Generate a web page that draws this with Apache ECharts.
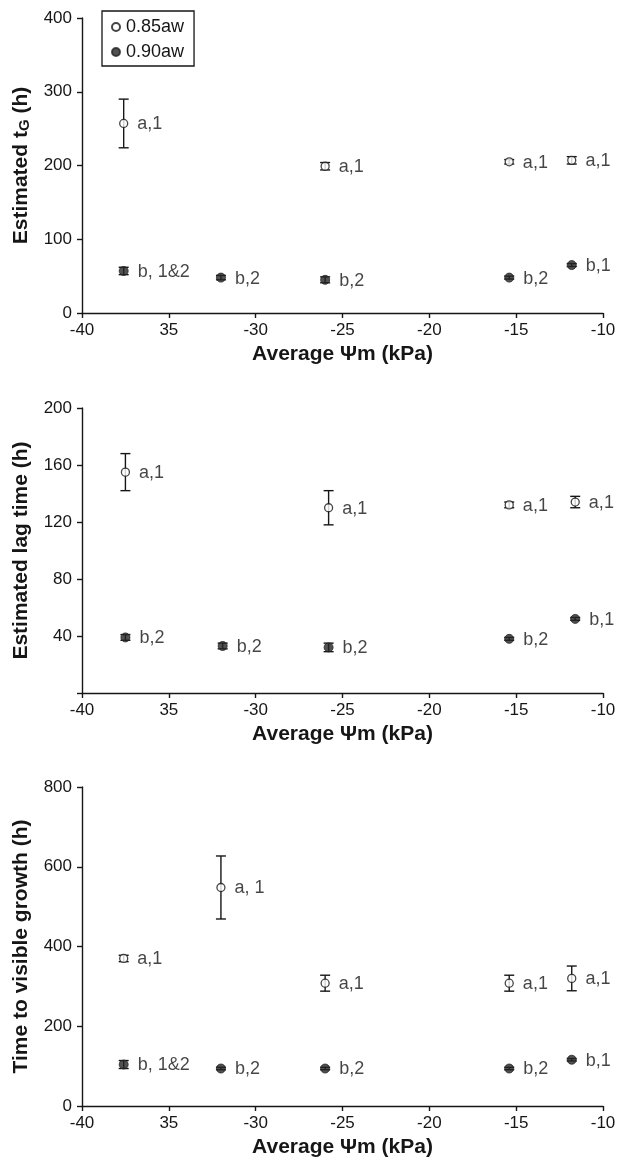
<!DOCTYPE html>
<html>
<head>
<meta charset="utf-8">
<script src="https://cdn.jsdelivr.net/npm/echarts@6/dist/echarts.min.js"></script>
<style>
  html, body { margin: 0; padding: 0; background: #fff; }
  #chart { width: 619px; height: 1167px; }
</style>
</head>
<body>
<div id="chart"></div>
<script>
// x-axis tick labels as printed (second one has no minus sign)
const xTickLabels = ['-40', '35', '-30', '-25', '-20', '-15', '-10'];

// Panel 1: estimated generation time tG (h)
const tgOpenX = [-37.6, -26.0, -15.4, -11.8];
const tgOpen = [257, 199, 205, 207];
const tgOpenErr = [33, 5, 3, 5];
const tgOpenLabels = ['a,1', 'a,1', 'a,1', 'a,1'];
const tgFilledX = [-37.6, -32.0, -26.0, -15.4, -11.8];
const tgFilled = [57, 48, 45, 48, 65];
const tgFilledErr = [5, 3, 4, 2, 2];
const tgFilledLabels = ['b, 1&2', 'b,2', 'b,2', 'b,2', 'b,1'];

// Panel 2: estimated lag time (h)
const lagOpenX = [-37.5, -25.8, -15.4, -11.6];
const lagOpen = [155, 130, 132, 134];
const lagOpenErr = [13, 12, 2, 4];
const lagOpenLabels = ['a,1', 'a,1', 'a,1', 'a,1'];
const lagFilledX = [-37.5, -31.9, -25.8, -15.4, -11.6];
const lagFilled = [39, 33, 32, 38, 52];
const lagFilledErr = [2, 2, 3, 1, 1];
const lagFilledLabels = ['b,2', 'b,2', 'b,2', 'b,2', 'b,1'];

// Panel 3: time to visible growth (h)
const vgOpenX = [-37.6, -32.0, -26.0, -15.4, -11.8];
const vgOpen = [370, 548, 308, 308, 320];
const vgOpenErr = [8, 79, 20, 20, 31];
const vgOpenLabels = ['a,1', 'a, 1', 'a,1', 'a,1', 'a,1'];
const vgFilledX = [-37.6, -32.0, -26.0, -15.4, -11.8];
const vgFilled = [104, 94, 94, 94, 116];
const vgFilledErr = [10, 3, 3, 3, 3];
const vgFilledLabels = ['b, 1&2', 'b,2', 'b,2', 'b,2', 'b,1'];

const FONT = 'Liberation Sans, Arial, sans-serif';
const INK = '#161616';

const chart = echarts.init(document.getElementById('chart'), null, { renderer: 'canvas' });

function pts(xs, ys) { return xs.map((x, i) => [x, ys[i]]); }
function errs(xs, ys, es) { return xs.map((x, i) => [x, ys[i] - es[i], ys[i] + es[i]]); }

function errorSeries(idx, xs, ys, es) {
  return {
    type: 'custom',
    xAxisIndex: idx, yAxisIndex: idx,
    silent: true, z: 1,
    data: errs(xs, ys, es),
    renderItem: function (params, api) {
      const lo = api.coord([api.value(0), api.value(1)]);
      const hi = api.coord([api.value(0), api.value(2)]);
      const half = 5;
      const style = { stroke: INK, lineWidth: 1.4 };
      return {
        type: 'group',
        children: [
          { type: 'line', shape: { x1: lo[0], y1: lo[1], x2: hi[0], y2: hi[1] }, style: style },
          { type: 'line', shape: { x1: lo[0] - half, y1: lo[1], x2: lo[0] + half, y2: lo[1] }, style: style },
          { type: 'line', shape: { x1: hi[0] - half, y1: hi[1], x2: hi[0] + half, y2: hi[1] }, style: style }
        ]
      };
    }
  };
}

function markerSeries(idx, name, open, xs, ys, labels) {
  return {
    type: 'scatter',
    name: name,
    xAxisIndex: idx, yAxisIndex: idx,
    z: 3,
    symbol: 'circle',
    symbolSize: open ? 8 : 9,
    itemStyle: open
      ? { color: '#ffffff', borderColor: INK, borderWidth: 1.3 }
      : { color: '#262626', borderColor: '#262626', borderWidth: 1 },
    label: {
      show: true,
      position: 'right',
      distance: 9,
      color: INK,
      fontFamily: FONT,
      fontSize: 18,
      offset: [0, 1],
      formatter: function (p) { return labels[p.dataIndex]; }
    },
    data: pts(xs, ys)
  };
}

const grids = [
  { left: 82, width: 521, top: 18, height: 295 },
  { left: 82, width: 521, top: 408, height: 285 },
  { left: 82, width: 521, top: 787, height: 319 }
];

function xAxis(idx) {
  return {
    type: 'value', gridIndex: idx,
    min: -40, max: -10, interval: 5,
    name: 'Average \u03A8m (kPa)',
    nameLocation: 'middle', nameGap: 31,
    nameTextStyle: { fontFamily: FONT, fontSize: 21, fontWeight: 'bold', color: INK },
    axisLine: { show: true, lineStyle: { color: INK, width: 1.4 } },
    axisTick: { show: true, length: 5, lineStyle: { color: INK, width: 1.4 } },
    axisLabel: {
      fontFamily: FONT, fontSize: 17, color: INK, margin: 9,
      formatter: function (v) { return xTickLabels[Math.round((v + 40) / 5)]; }
    },
    splitLine: { show: false }
  };
}

function yAxis(idx, max, interval, name, rich, hideZero) {
  return {
    type: 'value', gridIndex: idx,
    min: 0, max: max, interval: interval,
    name: name,
    nameLocation: 'middle', nameGap: 50, nameRotate: 90,
    nameTextStyle: { fontFamily: FONT, fontSize: 21, fontWeight: 'bold', color: INK, rich: rich },
    axisLine: { show: true, lineStyle: { color: INK, width: 1.4 } },
    axisTick: { show: true, length: 5, lineStyle: { color: INK, width: 1.4 } },
    axisLabel: {
      fontFamily: FONT, fontSize: 17, color: INK, margin: 10,
      formatter: function (v) { return (hideZero && v === 0) ? '' : String(v); }
    },
    splitLine: { show: false }
  };
}

const tgRich = {
  a: { fontFamily: FONT, fontSize: 21, fontWeight: 'bold', color: INK },
  s: { fontFamily: FONT, fontSize: 15, fontWeight: 'bold', color: INK, verticalAlign: 'bottom', padding: [5, 0, 0, 0] }
};

const option = {
  backgroundColor: '#ffffff',
  animation: false,
  textStyle: { fontFamily: FONT },
  legend: {
    data: ['0.85aw', '0.90aw'],
    orient: 'vertical',
    left: 102, top: 11,
    padding: [7, 10, 5, 9],
    itemGap: 7,
    itemWidth: 8, itemHeight: 8,
    borderColor: INK, borderWidth: 1.3,
    textStyle: { fontFamily: FONT, fontSize: 18, color: INK, padding: [0, 0, 0, 1] }
  },
  grid: grids,
  xAxis: [xAxis(0), xAxis(1), xAxis(2)],
  yAxis: [
    yAxis(0, 400, 100, '{a|Estimated t}{s|G}{a| (h)}', tgRich, false),
    yAxis(1, 200, 40, 'Estimated lag time (h)', null, true),
    yAxis(2, 800, 200, 'Time to visible growth (h)', null, false)
  ],
  series: [
    errorSeries(0, tgOpenX, tgOpen, tgOpenErr),
    errorSeries(0, tgFilledX, tgFilled, tgFilledErr),
    markerSeries(0, '0.85aw', true, tgOpenX, tgOpen, tgOpenLabels),
    markerSeries(0, '0.90aw', false, tgFilledX, tgFilled, tgFilledLabels),

    errorSeries(1, lagOpenX, lagOpen, lagOpenErr),
    errorSeries(1, lagFilledX, lagFilled, lagFilledErr),
    markerSeries(1, '0.85aw', true, lagOpenX, lagOpen, lagOpenLabels),
    markerSeries(1, '0.90aw', false, lagFilledX, lagFilled, lagFilledLabels),

    errorSeries(2, vgOpenX, vgOpen, vgOpenErr),
    errorSeries(2, vgFilledX, vgFilled, vgFilledErr),
    markerSeries(2, '0.85aw', true, vgOpenX, vgOpen, vgOpenLabels),
    markerSeries(2, '0.90aw', false, vgFilledX, vgFilled, vgFilledLabels)
  ]
};

chart.setOption(option);
</script>
</body>
</html>
